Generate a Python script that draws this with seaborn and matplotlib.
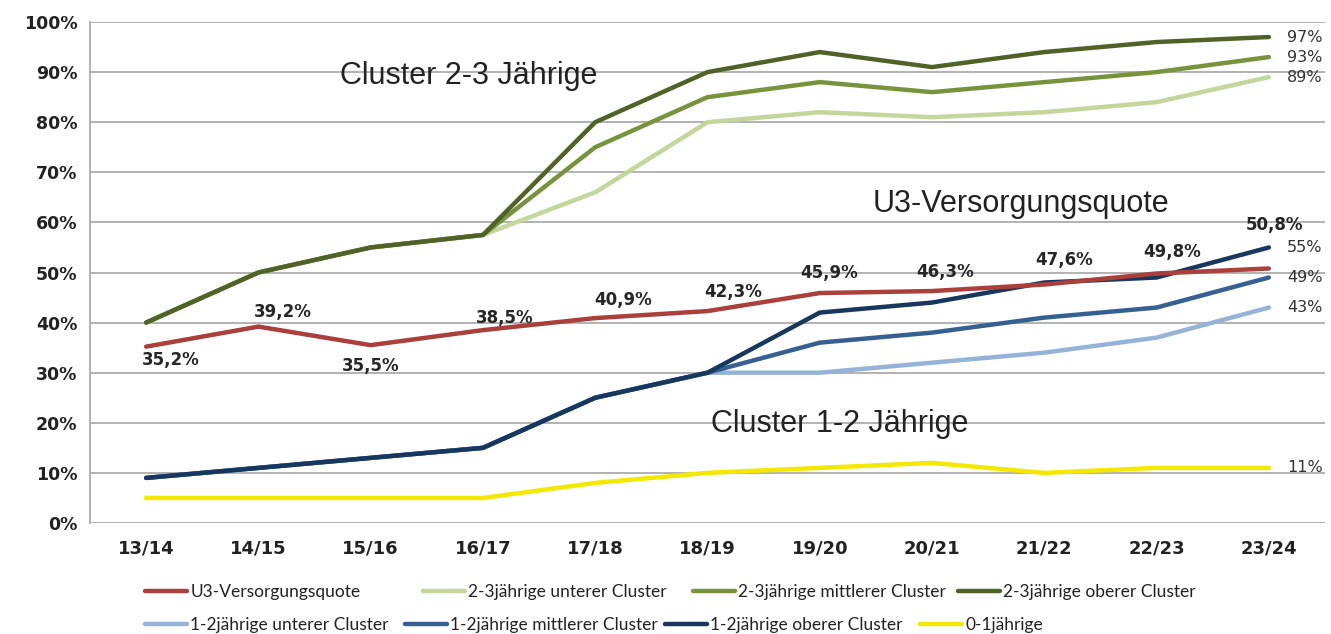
import matplotlib
matplotlib.use("Agg")
import matplotlib.pyplot as plt
import seaborn as sns
import pandas as pd
import numpy as np
from matplotlib.lines import Line2D

years = ["13/14", "14/15", "15/16", "16/17", "17/18", "18/19", "19/20", "20/21", "21/22", "22/23", "23/24"]
u3_quote = [35.2, 39.2, 35.5, 38.5, 40.9, 42.3, 45.9, 46.3, 47.6, 49.8, 50.8]
c23_unterer = [40, 50, 55, 57.5, 66, 80, 82, 81, 82, 84, 89]
c23_mittlerer = [40, 50, 55, 57.5, 75, 85, 88, 86, 88, 90, 93]
c23_oberer = [40, 50, 55, 57.5, 80, 90, 94, 91, 94, 96, 97]
c12_unterer = [9, 11, 13, 15, 25, 30, 30, 32, 34, 37, 43]
c12_mittlerer = [9, 11, 13, 15, 25, 30, 36, 38, 41, 43, 49]
c12_oberer = [9, 11, 13, 15, 25, 30, 42, 44, 48, 49, 55]
c01 = [5, 5, 5, 5, 8, 10, 11, 12, 10, 11, 11]

series = {
    "U3-Versorgungsquote": u3_quote,
    "2-3jährige unterer Cluster": c23_unterer,
    "2-3jährige mittlerer Cluster": c23_mittlerer,
    "2-3jährige oberer Cluster": c23_oberer,
    "1-2jährige unterer Cluster": c12_unterer,
    "1-2jährige mittlerer Cluster": c12_mittlerer,
    "1-2jährige oberer Cluster": c12_oberer,
    "0-1jährige": c01,
}
colors = {
    "U3-Versorgungsquote": "#AB3F3B",
    "2-3jährige unterer Cluster": "#C3D69B",
    "2-3jährige mittlerer Cluster": "#77933C",
    "2-3jährige oberer Cluster": "#4F6228",
    "1-2jährige unterer Cluster": "#95B3D7",
    "1-2jährige mittlerer Cluster": "#366092",
    "1-2jährige oberer Cluster": "#17375E",
    "0-1jährige": "#F2E800",
}
draw_order = ["0-1jährige", "1-2jährige unterer Cluster", "1-2jährige mittlerer Cluster",
              "1-2jährige oberer Cluster", "2-3jährige unterer Cluster", "2-3jährige mittlerer Cluster",
              "2-3jährige oberer Cluster", "U3-Versorgungsquote"]

rows = []
for name, vals in series.items():
    for i, v in enumerate(vals):
        rows.append({"Jahr": years[i], "x": i, "Wert": v, "Serie": name})
df = pd.DataFrame(rows)

sns.set_theme(style="white")
plt.rcParams['font.family'] = ['DejaVu Sans']

fig = plt.figure(figsize=(13.31, 6.34), dpi=100)
ax = fig.add_axes([90/1331, 111/634, (1325-90)/1331, (523-22)/634])

for name in draw_order:
    sub = df[df["Serie"] == name]
    sns.lineplot(data=sub, x="x", y="Wert", color=colors[name], linewidth=3.2,
                 ax=ax, legend=False, solid_capstyle="round", zorder=3)

ax.set_xlim(-0.5, len(years) - 0.5)
ax.set_ylim(0, 100)
ax.set_yticks(np.arange(0, 101, 10))
ax.set_yticklabels([f"{v}%" for v in range(0, 101, 10)], fontsize=12.5, fontweight="bold",
                   color="#222222")
ax.set_xticks(range(len(years)))
ax.set_xticklabels(years, fontsize=13, fontweight="bold", color="#222222")
ax.tick_params(axis="x", pad=12, length=0)
ax.tick_params(axis="y", pad=9, length=0)
ax.set_xlabel("")
ax.set_ylabel("")
ax.grid(axis="y", color="#A6A6A6", linewidth=1.2, zorder=0)
ax.set_axisbelow(True)
for s in ["top", "right", "bottom"]:
    ax.spines[s].set_visible(False)
ax.spines["left"].set_color("#A6A6A6")
ax.spines["left"].set_linewidth(1.2)

# U3 value labels (offsets in category units / percentage points)
offsets = [(0.22, -2.7), (0.22, 2.9), (0.0, -4.2), (0.19, 2.4), (0.25, 3.6), (0.23, 3.8),
           (0.08, 4.0), (0.12, 3.8), (0.18, 4.9), (0.14, 4.3), (0.05, 8.7)]
for i, v in enumerate(u3_quote):
    dx, dy = offsets[i]
    ax.text(i + dx, v + dy, f"{v:.1f}%".replace(".", ","), ha="center", va="center",
            fontsize=12, fontweight="bold", color="#262626", zorder=5)

# end labels
end_series = [c23_oberer, c23_mittlerer, c23_unterer, c12_oberer, c12_mittlerer, c12_unterer, c01]
for vals in end_series:
    ax.text(len(years) - 1 + 0.16, vals[-1], f"{vals[-1]}%", ha="left", va="center",
            fontsize=11.5, color="#333333", zorder=5)

ann_font = ["Liberation Sans", "DejaVu Sans"]
ax.text(1.73, 89.3, "Cluster 2-3 Jährige", fontsize=22, color="#222222", ha="left", va="center", family=ann_font)
ax.text(6.47, 63.6, "U3-Versorgungsquote", fontsize=22, color="#222222", ha="left", va="center", family=ann_font)
ax.text(5.03, 19.8, "Cluster 1-2 Jährige", fontsize=22, color="#222222", ha="left", va="center", family=ann_font)

# legend: two rows laid out like the reference
row1 = ["U3-Versorgungsquote", "2-3jährige unterer Cluster", "2-3jährige mittlerer Cluster", "2-3jährige oberer Cluster"]
row2 = ["1-2jährige unterer Cluster", "1-2jährige mittlerer Cluster", "1-2jährige oberer Cluster", "0-1jährige"]
row1_x = [145, 423, 693, 958]
row2_x = [145, 405, 665, 920]
for names, xs, ypix in [(row1, row1_x, 592), (row2, row2_x, 625)]:
    for n, xp in zip(names, xs):
        h = Line2D([0], [0], color=colors[n], linewidth=3.2)
        leg = fig.legend([h], [n], loc="center left", bbox_to_anchor=(xp/1331, 1 - ypix/634),
                         frameon=False, borderpad=0, borderaxespad=0,
                         prop={"family": ["Lato", "DejaVu Sans"], "size": 12.5},
                         handlelength=2.4, handletextpad=0.2)
        for t in leg.get_texts():
            t.set_color("#222222")

fig.savefig("out.png", dpi=100)
